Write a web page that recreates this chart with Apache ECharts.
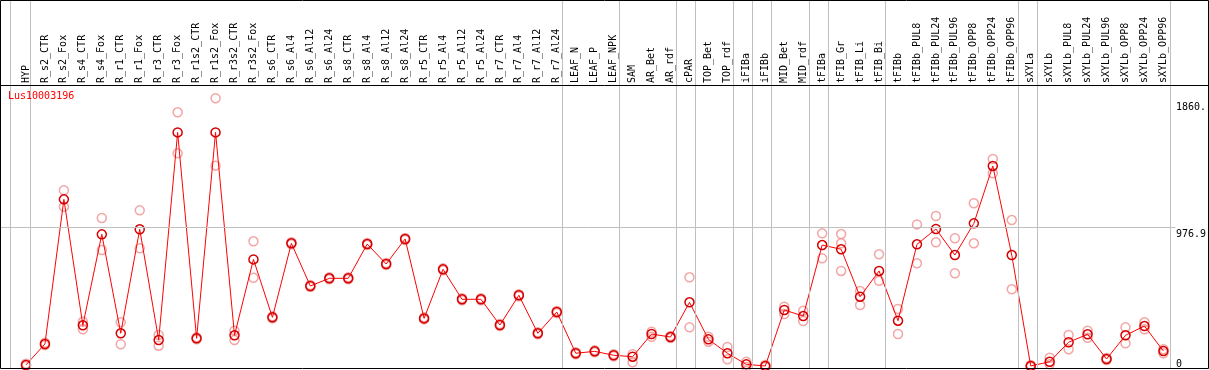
<!DOCTYPE html>
<html>
<head>
    <meta charset="utf-8">
    <title>Lus10003196</title>
    <script src="https://cdn.jsdelivr.net/npm/echarts@6/dist/echarts.min.js"></script>
    <style type="text/css">
        * { margin: 0; padding: 0; }
        body { background: #fff; }
        #main { width: 1209px; height: 370px; }
    </style>
</head>
<body>
<div id="main"></div>
<script type="text/javascript">
    // sample names (top labels)
    var categories = ['HYP', 'R_s2_CTR', 'R_s2_Fox', 'R_s4_CTR', 'R_s4_Fox', 'R_r1_CTR', 'R_r1_Fox', 'R_r3_CTR',
        'R_r3_Fox', 'R_r1s2_CTR', 'R_r1s2_Fox', 'R_r3s2_CTR', 'R_r3s2_Fox', 'R_s6_CTR', 'R_s6_Al4', 'R_s6_Al12',
        'R_s6_Al24', 'R_s8_CTR', 'R_s8_Al4', 'R_s8_Al12', 'R_s8_Al24', 'R_r5_CTR', 'R_r5_Al4', 'R_r5_Al12',
        'R_r5_Al24', 'R_r7_CTR', 'R_r7_Al4', 'R_r7_Al12', 'R_r7_Al24', 'LEAF_N', 'LEAF_P', 'LEAF_NPK', 'SAM',
        'AR_Bet', 'AR_rdf', 'cPAR', 'TOP_Bet', 'TOP_rdf', 'iFIBa', 'iFIBb', 'MID_Bet', 'MID_rdf', 'tFIBa',
        'tFIB_Gr', 'tFIB_Li', 'tFIB_Bi', 'tFIBb', 'tFIBb_PUL8', 'tFIBb_PUL24', 'tFIBb_PUL96', 'tFIBb_OPP8',
        'tFIBb_OPP24', 'tFIBb_OPP96', 'sXYLa', 'sXYLb', 'sXYLb_PUL8', 'sXYLb_PUL24', 'sXYLb_PUL96',
        'sXYLb_OPP8', 'sXYLb_OPP24', 'sXYLb_OPP96'];

    // mean expression (red line)
    var meanValues = [28, 173, 1173, 302, 931, 247, 966, 200, 1636, 212, 1636, 233, 758, 357, 869, 574,
        627, 627, 864, 726, 899, 350, 689, 482, 482, 304, 510, 247, 394, 109, 122, 95, 85,
        242, 221, 461, 205, 109, 32, 21, 408, 366, 857, 828, 500, 678, 334, 862, 968, 788, 1007,
        1404, 788, 21, 50, 185, 240, 69, 233, 297, 124];

    // replicates (pink circles)
    var repA = [20, 165, 1236, 327, 1044, 323, 1097, 235, 1775, 205, 1872, 265, 883, 350, 862, 567,
        620, 620, 857, 719, 892, 343, 682, 475, 475, 297, 503, 240, 387, 102, 115, 88, 102,
        258, 214, 634, 223, 152, 50, 14, 431, 403, 938, 933, 539, 793, 415, 1000, 1058, 904, 1146,
        1452, 1030, 14, 78, 235, 265, 62, 288, 323, 136];
    var repB = [36, 181, 1122, 274, 823, 171, 835, 161, 1491, 219, 1406, 200, 631, 364, 876, 581,
        634, 634, 871, 733, 906, 357, 696, 489, 489, 311, 517, 254, 401, 116, 129, 102, 46,
        223, 228, 288, 189, 67, 14, 28, 380, 332, 765, 869, 442, 610, 242, 731, 876, 662, 869,
        1353, 551, 28, 32, 136, 216, 76, 178, 274, 109];
    var repC = {43: 678};

    // right axis ticks
    var yTickValues = [0, 976.9, 1860];
    var yTickLabels = ['0', '976.9', '1860.'];
    var gridLineValue = 976.9;

    // group separators (between samples)
    var separators = [-0.82, 0.24, 28.24, 31.24, 34.24, 35.24, 37.24, 38.24, 39.24, 41.24, 42.24,
        45.24, 52.24, 53.24, 60.24];

    var FONT = 'DejaVu Sans Mono';
    var yMax = 1860;
    var plotTop = 100, plotBottom = 369;
    // full-height overlay grid, same px per unit as the plot
    var yMaxFull = yMax * plotBottom / (plotBottom - plotTop);

    var repData = [];
    for (var i = 0; i < categories.length; i++) {
        repData.push([i, repA[i]]);
        repData.push([i, repB[i]]);
        if (repC[i] != null) repData.push([i, repC[i]]);
    }

    var myChart = echarts.init(document.getElementById('main'));

    var option = {
        animation: false,
        title: {
            text: 'Lus10003196',
            left: 8,
            top: 91,
            padding: 0,
            textStyle: {color: '#ff0000', fontSize: 10, fontWeight: 'normal', fontFamily: FONT}
        },
        grid: [
            {left: 16.5, right: 33.5, top: plotTop, bottom: 370 - plotBottom},
            {left: 1, right: 33.5, top: 0, bottom: 370 - plotBottom}
        ],
        xAxis: [
            {
                type: 'category',
                gridIndex: 0,
                data: categories,
                position: 'top',
                offset: 15,
                boundaryGap: true,
                axisLine: {show: false},
                axisTick: {show: false},
                splitLine: {show: false},
                axisLabel: {
                    rotate: 90,
                    interval: 0,
                    margin: 2,
                    fontSize: 10,
                    fontFamily: FONT,
                    color: '#000'
                }
            },
            {
                type: 'value',
                gridIndex: 1,
                min: -25 / 19,
                max: 60.5,
                show: false
            }
        ],
        yAxis: [
            {
                type: 'value',
                gridIndex: 0,
                position: 'right',
                min: 0,
                max: yMax,
                axisLine: {show: false},
                axisTick: {show: false},
                splitLine: {show: false},
                axisLabel: {
                    customValues: yTickValues,
                    margin: 3,
                    align: 'left',
                    verticalAlign: 'top',
                    verticalAlignMinLabel: 'bottom',
                    padding: [2, 0, 0, 0],
                    fontSize: 10,
                    fontFamily: FONT,
                    color: '#000',
                    formatter: function (v) {
                        var k = yTickValues.indexOf(v);
                        return k >= 0 ? yTickLabels[k] : '';
                    }
                }
            },
            {
                type: 'value',
                gridIndex: 1,
                min: 0,
                max: yMaxFull,
                show: false
            }
        ],
        series: [
            {
                type: 'line',
                xAxisIndex: 1,
                yAxisIndex: 1,
                data: [],
                silent: true,
                markLine: {
                    silent: true,
                    symbol: 'none',
                    label: {show: false},
                    lineStyle: {color: '#c0c0c0', width: 1, type: 'solid'},
                    data: separators.map(function (s) { return {xAxis: s}; })
                        .concat([{yAxis: gridLineValue}])
                }
            },
            {
                name: 'replicates',
                type: 'scatter',
                xAxisIndex: 0,
                yAxisIndex: 0,
                clip: false,
                symbol: 'circle',
                symbolSize: 9,
                itemStyle: {color: 'rgba(0,0,0,0)', borderColor: '#f09090', borderWidth: 1.5},
                data: repData,
                z: 3
            },
            {
                name: 'mean',
                type: 'line',
                xAxisIndex: 0,
                yAxisIndex: 0,
                clip: false,
                symbol: 'circle',
                symbolSize: 9,
                lineStyle: {color: '#ff0000', width: 1},
                itemStyle: {color: 'rgba(0,0,0,0)', borderColor: '#d40000', borderWidth: 1.5},
                data: meanValues,
                z: 4
            }
        ],
        graphic: [
            {type: 'line', shape: {x1: 0, y1: 85.5, x2: 1209, y2: 85.5}, style: {stroke: '#000', lineWidth: 1}, z: 10},
            {type: 'rect', shape: {x: 0.5, y: 0.5, width: 1208, height: 368}, style: {fill: null, stroke: '#000', lineWidth: 1}, z: 10}
        ]
    };

    myChart.setOption(option);
</script>
</body>
</html>
